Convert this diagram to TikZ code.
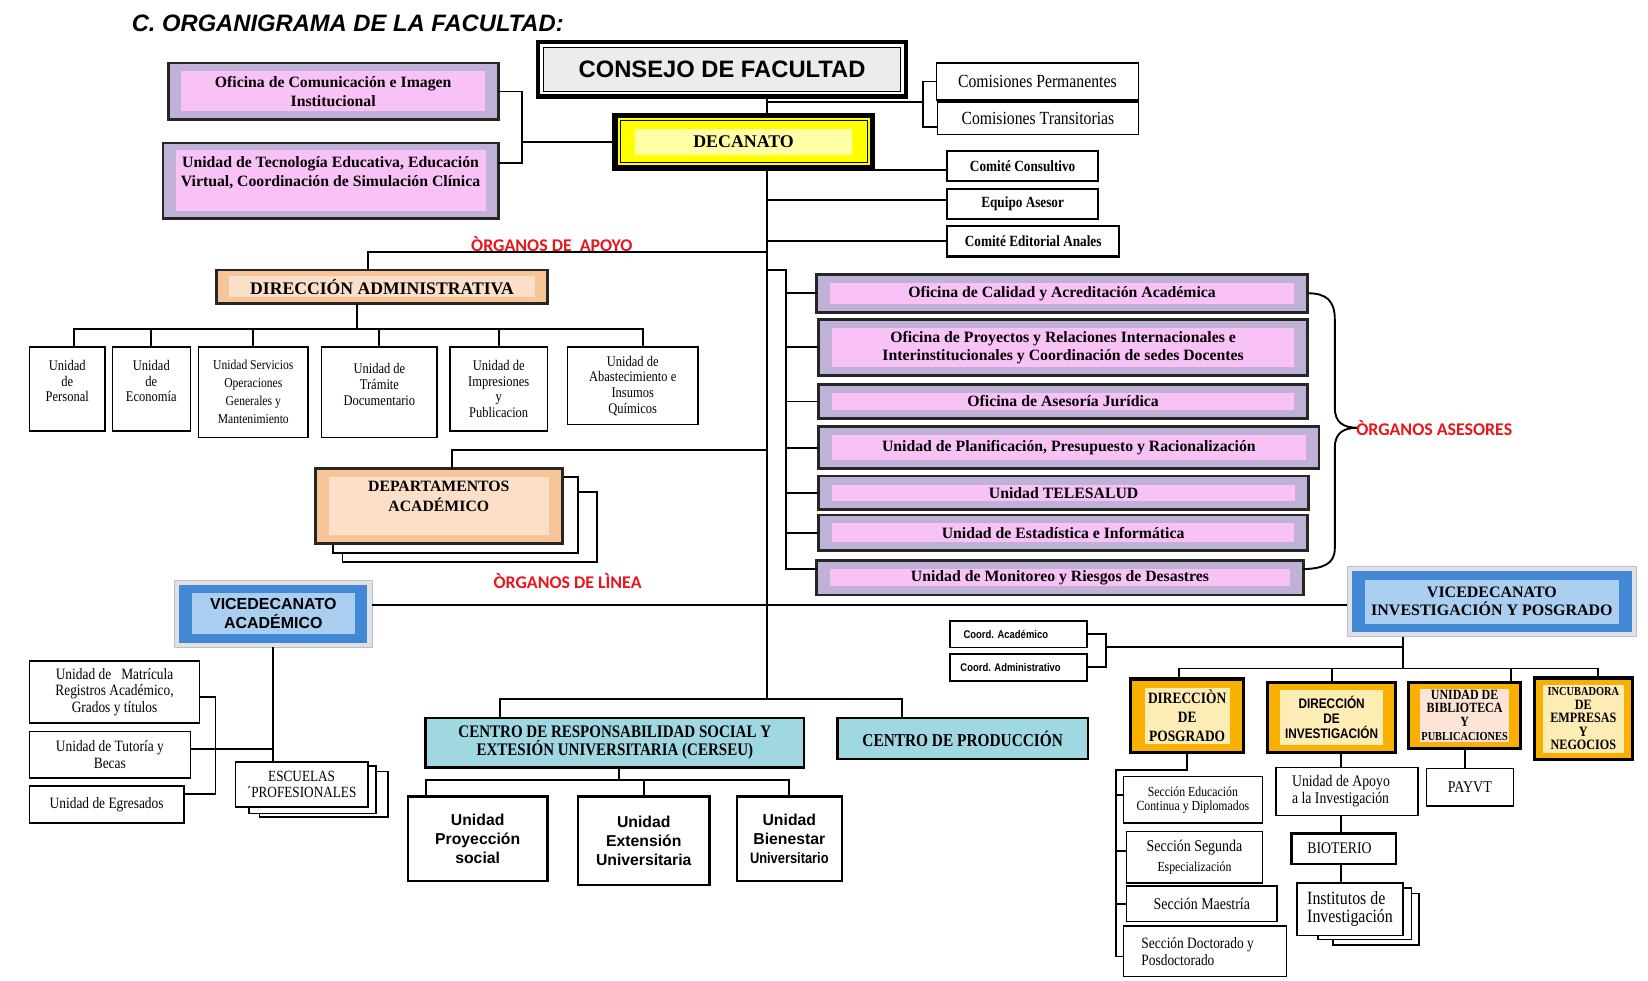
\documentclass[tikz,border=0pt]{standalone}
\usepackage{fontspec}
\setmainfont{Liberation Serif}
\setsansfont{Liberation Sans}
\newfontfamily\calib{Carlito}
\newfontfamily\nserif[FakeStretch=0.85]{Liberation Serif}
\newfontfamily\nsans[FakeStretch=0.85]{Liberation Sans}
\newcommand\fsz[2]{\fontsize{#1}{#2}\selectfont}
\definecolor{lav}{RGB}{192,178,214}
\definecolor{pinkin}{RGB}{249,194,247}
\definecolor{peach}{RGB}{248,197,153}
\definecolor{peachin}{RGB}{251,223,200}
\definecolor{ylw}{RGB}{255,255,0}
\definecolor{ylwin}{RGB}{255,255,165}
\definecolor{cgray}{RGB}{236,236,236}
\definecolor{blueb}{RGB}{66,136,212}
\definecolor{bluel}{RGB}{170,206,240}
\definecolor{frameg}{RGB}{222,226,232}
\definecolor{cyanb}{RGB}{160,216,226}
\definecolor{orng}{RGB}{250,176,0}
\definecolor{orngin}{RGB}{253,236,180}
\definecolor{biblin}{RGB}{252,228,214}
\definecolor{labred}{RGB}{232,22,28}
\newcommand\Bx[7][]{\node[#1, minimum width={(#5-#3)*0.5pt}, minimum height={(#6-#4)*0.5pt}] (#2) at ({(#3+#5)/2},{(#4+#6)/2}) {#7};}
\tikzset{
 conn/.style={line width=0.9pt},
 bx0/.style={align=center, inner sep=0pt, outer sep=0pt},
 wbox/.style={bx0, draw, line width=0.7pt, fill=white},
 stk/.style={draw, line width=0.8pt, fill=white},
 inset/.style n args={3}{path picture={\fill[#1] ([shift={(#2,#3)}]path picture bounding box.south west) rectangle ([shift={(-#2,-#3)}]path picture bounding box.north east);}},
 lavbox/.style={bx0, draw=black!85, line width=1.3pt, fill=lav, inset={pinkin}{6.3pt}{4pt}, font=\fsz{7.5}{8.7}\bfseries},
 peachbox/.style={bx0, draw=black!85, line width=1.2pt, fill=peach, inset={peachin}{6pt}{3pt}},
 orgbox/.style={bx0, draw, line width=1.5pt, fill=orng, inset={#1}{6pt}{3.8pt}},
 cybox/.style={bx0, draw, line width=1.2pt, fill=cyanb, font=\nserif\bfseries\fsz{8.4}{8.2}},
 redlab/.style={inner sep=0pt, text=labred, font=\calib\bfseries\fsz{8.5}{10}},
 cons/.style={bx0, draw, line width=2.2pt, fill=white, font=\sffamily\bfseries\fsz{11.3}{13},
   path picture={\draw[line width=0.6pt, fill=cgray] ([shift={(2.6pt,2.6pt)}]path picture bounding box.south west) rectangle ([shift={(-2.6pt,-2.6pt)}]path picture bounding box.north east);}},
 deca/.style={bx0, draw, line width=2.6pt, fill=ylw, font=\bfseries\fsz{8.5}{10},
   path picture={\draw[line width=0.5pt] ([shift={(2.5pt,2.5pt)}]path picture bounding box.south west) rectangle ([shift={(-2.5pt,-2.5pt)}]path picture bounding box.north east);
   \fill[ylwin] ([shift={(9.5pt,6.5pt)}]path picture bounding box.south west) rectangle ([shift={(-9.5pt,-6.5pt)}]path picture bounding box.north east);}},
 vice/.style={bx0, fill=frameg, draw=gray!50, line width=0.5pt,
   path picture={\fill[blueb] ([shift={(2.2pt,2.2pt)}]path picture bounding box.south west) rectangle ([shift={(-2.2pt,-2.2pt)}]path picture bounding box.north east);
   \fill[bluel] ([shift={(8.3pt,6.2pt)}]path picture bounding box.south west) rectangle ([shift={(-8.3pt,-6.2pt)}]path picture bounding box.north east);}}
}
\begin{document}
\begin{tikzpicture}[x=0.5pt,y=-0.5pt]
\fill[white] (0,0) rectangle (1568,933);
\useasboundingbox (0,0) rectangle (1568,933);

\node[anchor=west, inner sep=0pt, font=\sffamily\bfseries\itshape\fsz{11.3}{13}] (title) at (125,22) {C. ORGANIGRAMA DE LA FACULTAD:};

% top
\Bx[cons]{consejo}{512}{40}{862}{92}{CONSEJO DE FACULTAD}
\Bx[deca]{decanato}{585}{110}{830}{160}{DECANATO}
\Bx[wbox, font=\nserif\fsz{8.8}{10}]{cperm}{891}{60}{1083}{95}{Comisiones Permanentes}
\Bx[wbox, font=\nserif\fsz{8.8}{10}]{ctrans}{892}{97}{1083}{128}{Comisiones Transitorias}
\Bx[lavbox]{ofcom}{160}{60}{474}{114}{Oficina de Comunicación e Imagen\\Institucional}
\Bx[lavbox, inset={pinkin}{6pt}{3.5pt}, font=\fsz{7.5}{9}\bfseries]{utec}{155}{136}{474}{208}{Unidad de Tecnología Educativa, Educación\\Virtual, Coordinación de Simulación Clínica\\ \mbox{}}
\Bx[wbox, line width=1pt, font=\nserif\bfseries\fsz{7.4}{8}]{ccons}{901}{144}{1045}{172}{Comité Consultivo}
\Bx[wbox, line width=1pt, font=\nserif\bfseries\fsz{7.4}{8}]{equipo}{901}{180}{1045}{208}{Equipo Asesor}
\Bx[wbox, line width=1pt, font=\nserif\bfseries\fsz{7.4}{8}]{ceditor}{901}{215}{1065}{244}{Comité Editorial Anales}

\coordinate (spx) at (730,0);
\coordinate (cj) at (878,97);
\draw[conn] (consejo.south -| spx) -- (decanato.north -| spx);
\draw[conn] (spx |- cj) -- (cj);
\coordinate (ctt) at ([yshift=-4pt]ctrans.west);
\draw[conn] (cperm.west) -| (cj) |- (ctt);
\coordinate (lj) at (497,135);
\coordinate (utt) at ([yshift=8.5pt]utec.east);
\draw[conn] (ofcom.east) -| (lj) |- (utt);
\draw[conn] (lj) -- (decanato.west);
\coordinate (spbot) at (730,665);
\draw[conn] (decanato.south -| spx) -- (spbot);
\coordinate (cct) at ([yshift=-2pt]ccons.west);
\coordinate (eqt) at ([yshift=2pt]equipo.west);
\draw[conn] (spx |- cct) -- (cct);
\draw[conn] (spx |- eqt) -- (eqt);
\draw[conn] (spx |- ceditor.west) -- (ceditor.west);

% apoyo
\node[redlab] (lapoyo) at (525,232) {ÒRGANOS DE\ \ APOYO};
\Bx[peachbox, font=\bfseries\fsz{8.4}{10}]{diradm}{206}{257}{521}{289}{DIRECCIÓN ADMINISTRATIVA}
\coordinate (apj) at (350,240);
\draw[conn] (spx |- apj) -- (apj) -- (apj |- diradm.north);

\Bx[wbox, font=\nserif\fsz{7}{7.5}]{u1}{28}{330}{100}{410}{Unidad\\de\\Personal\\ \mbox{}}
\Bx[wbox, font=\nserif\fsz{7}{7.5}]{u2}{107}{330}{181}{410}{Unidad\\de\\Economía\\ \mbox{}}
\Bx[wbox, font=\nserif\fsz{6.5}{8.5}]{u3}{189}{330}{293}{416}{Unidad Servicios\\Operaciones\\Generales y\\Mantenimiento}
\Bx[wbox, font=\nserif\fsz{7}{7.5}]{u4}{306}{330}{416}{416}{Unidad de\\Trámite\\Documentario\\ \mbox{}}
\Bx[wbox, font=\nserif\fsz{7}{7.5}]{u5}{428}{330}{521}{410}{Unidad de\\Impresiones\\y\\Publicacion}
\Bx[wbox, font=\nserif\fsz{7}{7.5}]{u6}{540}{330}{664}{404}{Unidad de\\Abastecimiento e\\Insumos\\Químicos}
\coordinate (adj) at (340,313);
\draw[conn] (diradm.south -| adj) -- (adj);
\coordinate (t1x) at ([xshift=3pt]u1.north);
\coordinate (t6x) at ([xshift=5pt]u6.north);
\draw[conn] (t1x) |- (t6x |- adj) -- (t6x);
\foreach \q in {u2,u3,u4,u5} \draw[conn] (\q.north) -- (\q.north |- adj);

% departamentos
\draw[stk] (326,468) rectangle (568,535);
\draw[stk] (317,454) rectangle (550,526);
\Bx[peachbox, line width=1.4pt, inset={peachin}{6.3pt}{4pt}, font=\bfseries\fsz{7.5}{9.5}]{dept}{300}{446}{535}{517}{DEPARTAMENTOS\\ACADÉMICO\\ \mbox{}}
\coordinate (dj) at (430,428);
\draw[conn] (spx |- dj) -- (dj) -- (dj |- dept.north);

\node[redlab] (llinea) at (540,553) {ÒRGANOS DE LÌNEA};

% vicedecanatos
\Bx[vice, font=\sffamily\bfseries\fsz{7.6}{9}]{vacad}{166}{552}{354}{616}{VICEDECANATO\\ACADÉMICO}
\Bx[vice, font=\bfseries\fsz{7.6}{8.5}]{vinv}{1282}{539}{1557}{606}{VICEDECANATO\\INVESTIGACIÓN Y POSGRADO}
\coordinate (lin) at (730,576);
\draw[conn] (vacad.east |- lin) -- (vinv.west |- lin);

\Bx[wbox, font=\nserif\fsz{7.5}{8}]{matr}{28}{629}{190}{688}{Unidad de\ \ \ Matrícula\\Registros Académico,\\Grados y títulos}
\Bx[wbox, font=\nserif\fsz{7.5}{8}]{tut}{28}{696}{181}{740}{Unidad de Tutoría y\\Becas}
\Bx[wbox, font=\nserif\fsz{7.5}{8}]{egres}{28}{748}{175}{783}{Unidad de Egresados}
\draw[stk] (247,734) rectangle (369,777);
\draw[stk] (237,729) rectangle (358,774);
\Bx[wbox, font=\nserif\fsz{7.4}{7.5}]{esc}{224}{725}{350}{768}{ESCUELAS\\´PROFESIONALES}
\coordinate (vj) at (259,713);
\coordinate (mb) at (205,713);
\draw[conn] (vacad.south) -- (vacad.south |- esc.north);
\draw[conn] (tut.east |- vj) -- (vacad.south |- vj);
\coordinate (m1) at ([yshift=-2.5pt]matr.east);
\coordinate (e1) at ([yshift=5pt]egres.east);
\draw[conn] (m1) -| (mb) |- (e1);

% centros
\Bx[cybox]{cerseu}{405}{683}{765}{730}{CENTRO DE RESPONSABILIDAD SOCIAL Y\\EXTESIÓN UNIVERSITARIA (CERSEU)}
\Bx[cybox, font=\nserif\bfseries\fsz{8.6}{10}]{cprod}{797}{683}{1035}{722}{CENTRO DE PRODUCCIÓN}
\coordinate (cx1) at (476,665);
\coordinate (cx2) at (858,665);
\draw[conn] (cx1 |- cerseu.north) -- (cx1) -- (cx2) -- (cx2 |- cprod.north);

\Bx[wbox, line width=1.2pt, font=\sffamily\bfseries\fsz{7.5}{9}]{proy}{388}{758}{521}{838}{Unidad\\Proyección\\social}
\Bx[wbox, line width=1.2pt, font=\sffamily\bfseries\fsz{7.5}{9}]{ext}{550}{758}{675}{842}{Unidad\\Extensión\\Universitaria}
\Bx[wbox, line width=1.2pt, font=\sffamily\bfseries\fsz{7.5}{9}]{bien}{701}{758}{801}{838}{Unidad\\Bienestar\\{\nsans\bfseries\fsz{7.2}{9}Universitario}}
\coordinate (cb) at (589,742);
\coordinate (pj) at (405,742);
\draw[conn] (cb |- cerseu.south) -- (cb);
\draw[conn] (pj |- proy.north) -- (pj) -- (bien.north |- pj) -- (bien.north);
\draw[conn] (ext.north) -- (ext.north |- pj);

% organos asesores
\Bx[lavbox]{a1}{777}{261}{1244}{297}{Oficina de Calidad y Acreditación Académica}
\Bx[lavbox]{a2}{779}{304}{1244}{357}{Oficina de Proyectos y Relaciones Internacionales e\\Interinstitucionales y Coordinación de sedes Docentes}
\Bx[lavbox]{a3}{779}{366}{1244}{398}{Oficina de Asesoría Jurídica}
\Bx[lavbox]{a4}{779}{406}{1255}{446}{Unidad de Planificación, Presupuesto y Racionalización}
\Bx[lavbox]{a5}{779}{453}{1245}{485}{Unidad TELESALUD}
\Bx[lavbox]{a6}{779}{490}{1244}{524}{Unidad de Estadística e Informática}
\Bx[lavbox]{a7}{777}{533}{1240}{566}{Unidad de Monitoreo y Riesgos de Desastres}
\coordinate (ab) at (748,257);
\coordinate (a7t) at ([yshift=4pt]a7.west);
\draw[conn] (spx |- ab) -- (ab) |- (a7t);
\foreach \q in {a1,a2,a3,a4,a5,a6} \draw[conn] (ab |- \q.west) -- (\q.west);
\coordinate (tip) at (1292,407);
\coordinate (a7e) at ([yshift=4pt]a7.east);
\draw[line width=0.9pt] (a1.east) .. controls (1262,279) and (1270,286) .. (1270,304) -- (1270,388) .. controls (1270,402) and (1278,407) .. (tip) .. controls (1278,407) and (1270,412) .. (1270,426) -- (1270,522) .. controls (1270,537) and (1258,541) .. (a7e);
\node[redlab, anchor=west] (lases) at (1290,407) {ÒRGANOS ASESORES};

% investigacion y posgrado
\Bx[wbox, line width=0.8pt, font=\nsans\bfseries\fsz{5.3}{6}]{ca}{904}{591}{1034}{616}{Coord. Académico\hspace*{12pt}}
\Bx[wbox, line width=0.8pt, font=\nsans\bfseries\fsz{5.3}{6}]{cadm}{904}{622}{1034}{648}{Coord. Administrativo\hspace*{7.5pt}}
\coordinate (cj2) at (1052,616);
\draw[conn] (ca.east) -| (cj2) |- (cadm.east);
\coordinate (vx) at (1335,636);
\draw[conn] (cj2) -- (vx |- cj2);
\draw[conn] (vx |- vinv.south) -- (vx);

\Bx[orgbox=orngin, inset={orngin}{6.5pt}{4.3pt}, font=\nserif\bfseries\fsz{7.5}{9}]{o1}{1076}{646}{1183}{716}{DIRECCIÒN\\DE\\POSGRADO}
\Bx[orgbox=orngin, font=\nsans\bfseries\fsz{6.6}{7}]{o2}{1206}{649}{1328}{716}{DIRECCIÓN\\DE\\INVESTIGACIÓN}
\Bx[orgbox=biblin, inset={biblin}{5.5pt}{3.2pt}, font=\nserif\bfseries\fsz{6.7}{6.6}]{o3}{1340}{649}{1447}{712}{UNIDAD DE\\BIBLIOTECA\\Y\\{\fsz{5.8}{6.6}PUBLICACIONES}}
\Bx[orgbox=orngin, inset={orngin}{4pt}{3.5pt}, font=\nserif\bfseries\fsz{6.8}{6.4}]{o4}{1460}{645}{1553}{723}{{\fsz{5.8}{6.4}INCUBADORA}\\DE\\EMPRESAS\\Y\\NEGOCIOS}
\coordinate (ox1) at (1122,636);
\coordinate (ox3) at (1438,636);
\coordinate (ox4) at (1520,636);
\draw[conn] (ox1 |- o1.north) -- (ox1) -- (ox4) -- (ox4 |- o4.north);
\draw[conn] (o2.north) -- (o2.north |- ox1);
\draw[conn] (ox3) -- (ox3 |- o3.north);

\Bx[wbox, font=\nserif\fsz{6.6}{6.6}]{s1}{1069}{739}{1201}{783}{Sección Educación\\Continua y Diplomados}
\Bx[wbox, font=\nserif\fsz{7.8}{9.5}]{s2}{1072}{791}{1201}{840}{Sección Segunda\\{\fsz{6.6}{9.5}Especialización}}
\Bx[wbox, font=\nserif\fsz{7.8}{9}]{s3}{1072}{843}{1215}{877}{Sección Maestría}
\Bx[wbox, font=\nserif\fsz{7.5}{8}, align=left]{s4}{1069}{881}{1224}{929}{Sección Doctorado y\hspace*{7pt}\\Posdoctorado}
\coordinate (pg) at (1062,733);
\coordinate (s1t) at ([yshift=2.5pt]s1.west);
\coordinate (s2t) at ([yshift=3pt]s2.west);
\coordinate (s4t) at ([yshift=-2.5pt]s4.west);
\draw[conn] (o1.south) |- (pg) |- (s4t);
\draw[conn] (pg |- s1t) -- (s1t);
\draw[conn] (pg |- s2t) -- (s2t);
\draw[conn] (pg |- s3.west) -- (s3.west);

\coordinate (ix) at (1276,0);
\Bx[wbox, font=\nserif\fsz{7.7}{8}, align=left]{apoyo}{1214}{730}{1349}{776}{Unidad de Apoyo\\a la Investigación\hspace*{6pt}}
\Bx[wbox, line width=1.2pt, font=\nserif\fsz{7.7}{9}]{bio}{1229}{793}{1328}{822}{BIOTERIO\hspace*{4pt}}
\draw[stk] (1268,850) rectangle (1350,899);
\draw[stk] (1254,845) rectangle (1343,894);
\Bx[wbox, font=\nserif\fsz{8.9}{8.5}, align=left]{inst}{1234}{840}{1335}{890}{Institutos de\\Investigación}
\draw[conn] (ix |- o2.south) -- (ix |- apoyo.north);
\draw[conn] (ix |- apoyo.south) -- (ix |- bio.north);
\draw[conn] (ix |- bio.south) -- (ix |- inst.north);

\Bx[wbox, font=\nserif\fsz{7.8}{9}]{payvt}{1357}{731}{1440}{767}{PAYVT}
\draw[conn] (o3.south) -- (o3.south |- payvt.north);
\end{tikzpicture}
\end{document}
